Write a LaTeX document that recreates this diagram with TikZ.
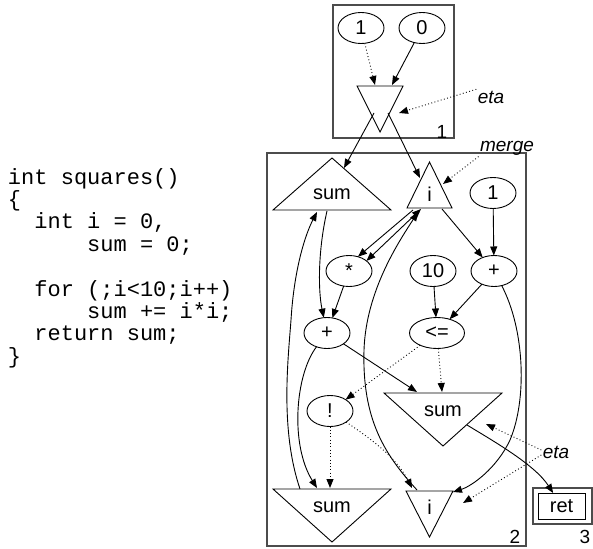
\documentclass[tikz,border=0pt]{standalone}
\usepackage{fontspec}
\setmainfont{Liberation Sans}
\newfontfamily\codefont{Liberation Mono}
\usetikzlibrary{shapes.geometric,arrows.meta,calc}
\begin{document}
\begin{tikzpicture}[x=1pt,y=-1pt,
  every node/.style={inner sep=0pt, outer sep=0pt},
  ell/.style={ellipse, draw, line width=0.9pt, minimum width=46pt, minimum height=31pt, font=\fontsize{20}{20}\selectfont},
  lbl/.style={font=\fontsize{20}{20}\selectfont},
  tag/.style={font=\fontsize{19}{19}\selectfont\itshape, inner sep=1.5pt},
  num/.style={font=\fontsize{19}{19}\selectfont},
  codeline/.style={anchor=base west, font=\codefont\fontsize{22}{22}\selectfont},
  tribox/.style={rectangle, draw=none},
  shp/.style={line width=0.9pt, line join=miter},
  cluster/.style={draw=black!70, line width=1.3pt},
  edge/.style={-{Triangle[length=9pt,width=7pt]}, line width=0.9pt},
  edgeboth/.style={{Triangle[length=9pt,width=7pt]}-{Triangle[length=9pt,width=7pt]}, line width=0.9pt},
  dotedge/.style={edge, dash pattern=on 0.9pt off 2.4pt}]
\useasboundingbox (0,0) rectangle (593,548);

% code
\node[codeline] (l1) at (8,184) {int squares()};
\node[codeline] (l2) at (8,206.4) {\{};
\node[codeline] (l3) at (8,228.8) {\phantom{xx}int i = 0,};
\node[codeline] (l4) at (8,251.2) {\phantom{xxxxxx}sum = 0;};
\node[codeline] (l5) at (8,296) {\phantom{xx}for (;i<10;i++)};
\node[codeline] (l6) at (8,318.4) {\phantom{xxxxxx}sum += i*i;};
\node[codeline] (l7) at (8,340.8) {\phantom{xx}return sum;};
\node[codeline] (l8) at (8,363.2) {\}};

% clusters
\draw[cluster] (333,5) rectangle (454,138);
\draw[cluster] (267,153) rectangle (526,546);
\draw[cluster] (533,488) rectangle (592,524);
\node[num] (n1) at (442,132) {1};
\node[num] (n2) at (515,537) {2};
\node[num] (n3) at (585,537) {3};

% cluster 1
\node[ell] (c1) at (361,28) {1};
\node[ell] (c0) at (422,28) {0};
\node[tribox, minimum width=46pt, minimum height=46pt] (eta1) at (380,109) {};
\draw[shp] (eta1.north west) -- (eta1.north east) -- (eta1.south) -- cycle;
\coordinate (eta1-in1) at (375,85);
\coordinate (eta1-in2) at (392,85);
\coordinate (eta1-tag) at (399,113);
\coordinate (eta1-o1) at (374,113);
\coordinate (eta1-o2) at (388,113);
\node[tag] (etaT1) at (491,97) {eta};

% cluster 2 triangles
\node[tribox, minimum width=118pt, minimum height=52pt] (s1) at (332,184) {};
\draw[shp] (s1.south west) -- (s1.north) -- (s1.south east) -- cycle;
\node[lbl] (s1t) at (332,194) {sum};
\node[tribox, minimum width=45pt, minimum height=46pt] (i1) at (429.5,185) {};
\draw[shp] (i1.south west) -- (i1.north) -- (i1.south east) -- cycle;
\node[lbl] (i1t) at (429.5,194) {i};
\node[tribox, minimum width=118pt, minimum height=53pt] (s2) at (443,419.5) {};
\draw[shp] (s2.north west) -- (s2.north east) -- (s2.south) -- cycle;
\node[lbl] (s2t) at (443,411) {sum};
\node[tribox, minimum width=118pt, minimum height=53pt] (s3) at (332,515.5) {};
\draw[shp] (s3.north west) -- (s3.north east) -- (s3.south) -- cycle;
\node[lbl] (s3t) at (332,507) {sum};
\node[tribox, minimum width=47pt, minimum height=46pt] (i3) at (429.5,514) {};
\draw[shp] (i3.north west) -- (i3.north east) -- (i3.south) -- cycle;
\node[lbl] (i3t) at (429.5,507) {i};

% cluster 2 ellipses
\node[ell] (one) at (493,193) {1};
\node[ell] (star) at (349,271) {*};
\node[ell] (ten) at (433,271) {10};
\node[ell] (plusR) at (494,271) {+};
\node[ell, minimum width=55pt] (le) at (437,333) {<=};
\node[ell] (plusL) at (327,333) {+};
\node[ell] (notn) at (330,411) {!};

% cluster 3
\node[draw, line width=0.9pt, minimum width=47pt, minimum height=26pt, lbl] (ret) at (561.5,506) {ret};

% tags
\node[tag] (mergeT) at (507,148) {merge};
\node[tag] (etaT2) at (556,452) {eta};

% attachment points
\coordinate (s1-in) at (344,168);
\coordinate (i1-in) at (420,178);
\coordinate (i1-tag) at (443,184);
\coordinate (i1-out) at (442,209);
\coordinate (i1-o3) at (413,210);
\coordinate (i1-o4) at (421,209);
\coordinate (i1-in2) at (418,212);
\coordinate (s1-out) at (327,211);
\coordinate (s1-in2) at (317,212);
\coordinate (s2-in1) at (442,392);
\coordinate (s2-in2) at (417,392);
\coordinate (s2-out) at (467,425);
\coordinate (s2-tag) at (486,424);
\coordinate (s3-in1) at (317,488);
\coordinate (s3-in2) at (330,488);
\coordinate (s3-out) at (300,489);
\coordinate (i3-in1) at (412,488);
\coordinate (i3-in2) at (453,492);
\coordinate (i3-out) at (417,490);
\coordinate (i3-tag) at (463,503);

% edges cluster 1
\draw[dotedge] (c1) -- (eta1-in1);
\draw[edge] (c0) -- (eta1-in2);
\draw[dotedge] (etaT1.north west) -- (eta1-tag);
\draw[edge] (eta1-o1) -- (s1-in);
\draw[edge] (eta1-o2) -- (i1-in);

% edges cluster 2
\draw[dotedge] (mergeT.south west) -- (i1-tag);
\draw[edge] (one) -- (plusR);
\draw[edge] (i1-out) -- (plusR);
\draw[edge] (ten) -- (le);
\draw[edge] (plusR) -- (le);
\draw[dotedge] (le) -- (notn);
\draw[dotedge] (le) -- (s2-in1);
\draw[edge] (plusL) -- (s2-in2);
\draw[edge] (star) -- (plusL);
\draw[edge] (i1-o3) -- (star.58);
\draw[edgeboth] (i1-o4) -- (star.30);
\draw[edge] (s1-out) .. controls (318,250) and (318,290) .. (plusL);
\draw[edge] (plusL) .. controls (295,375) and (290,445) .. (s3-in1);
\draw[edge] (s3-out) .. controls (280,430) and (288,360) .. (291,320) .. controls (294,270) and (305,235) .. (s1-in2);
\draw[dotedge] (notn) -- (s3-in2);
\draw[dotedge] (notn) .. controls (365,435) and (395,455) .. (i3-in1);
\draw[edge] (i3-out) .. controls (385,455) and (362,420) .. (364,350) .. controls (366,290) and (400,240) .. (i1-in2);
\draw[edge] (plusR) .. controls (525,330) and (527,400) .. (510,440) .. controls (497,468) and (472,486) .. (i3-in2);
\draw[edge] (s2-out) .. controls (495,442) and (535,465) .. (ret);
\draw[dotedge] ([yshift=2pt]etaT2.west) -- (s2-tag);
\draw[dotedge] ([yshift=-3pt]etaT2.west) -- (i3-tag);
\end{tikzpicture}
\end{document}
